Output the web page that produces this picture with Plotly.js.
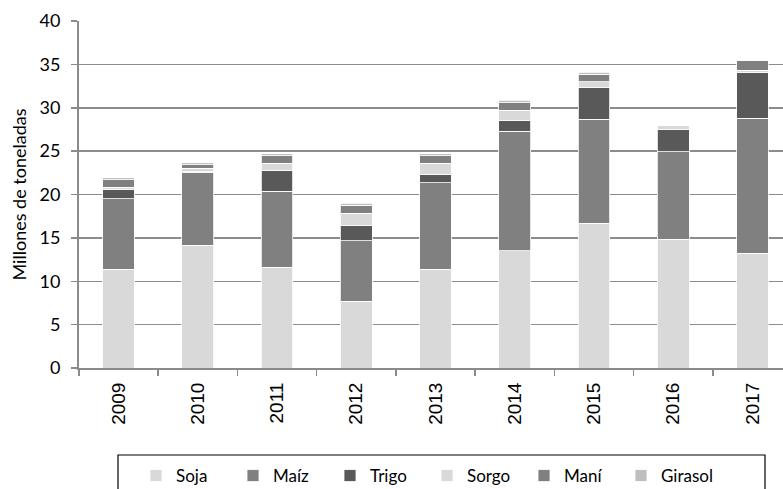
<!DOCTYPE html>
<html>
<head>
<meta charset="utf-8">
<script src="https://cdn.plot.ly/plotly-3.0.1.min.js"></script>
<style>
html, body { margin: 0; padding: 0; overflow: hidden; background: #fff; }
#chart { width: 800px; height: 500px; }
</style>
</head>
<body>
<div id="chart"></div>
<script>
const years = ['2009', '2010', '2011', '2012', '2013', '2014', '2015', '2016', '2017'];
const soja    = [11.4, 14.15, 11.6, 7.7, 11.4, 13.5, 16.7, 14.85, 13.2];
const maiz    = [8.1, 8.4, 8.8, 6.95, 9.95, 13.8, 11.95, 10.1, 15.6];
const trigo   = [1.05, 0.15, 2.4, 1.75, 1.0, 1.25, 3.65, 2.5, 5.25];
const sorgo   = [0.3, 0.3, 0.8, 1.45, 1.25, 1.15, 0.7, 0.45, 0.25];
const mani    = [0.85, 0.45, 0.85, 0.9, 0.85, 0.9, 0.85, 0, 1.2];
const girasol = [0.25, 0.2, 0.25, 0.25, 0.25, 0.25, 0.25, 0.05, 0.05];

const seriesNames = ['Soja', 'Maíz', 'Trigo', 'Sorgo', 'Maní', 'Girasol'];
const seriesData = [soja, maiz, trigo, sorgo, mani, girasol];
const colors = ['#d9d9d9', '#808080', '#595959', '#d9d9d9', '#808080', '#bfbfbf'];

const traces = seriesNames.map((name, i) => ({
  type: 'bar',
  name: name,
  x: years,
  y: seriesData[i],
  marker: { color: colors[i], line: { color: '#ffffff', width: 0.8 } },
  hoverinfo: 'x+y+name'
}));

const W = 800, H = 500;
const layout = {
  width: W,
  height: H,
  barmode: 'stack',
  bargap: 0.6,
  margin: { l: 79, r: 8, t: 21, b: H - 368 },
  paper_bgcolor: '#ffffff',
  plot_bgcolor: '#ffffff',
  font: { family: 'Lato, "Open Sans", sans-serif', color: '#000000' },
  xaxis: {
    type: 'category',
    tickangle: -90,
    tickfont: { family: '"Liberation Sans", Arial, sans-serif', size: 19, color: '#000' },
    showline: true,
    linecolor: '#8a8a8a',
    linewidth: 2,
    ticks: 'outside',
    tickson: 'boundaries',
    ticklen: 6,
    tickcolor: '#8a8a8a',
    tickwidth: 1.5,
    ticklabelstandoff: 5,
    showgrid: false,
    zeroline: false,
    fixedrange: true
  },
  yaxis: {
    range: [0, 40],
    dtick: 5,
    tick0: 0,
    tickfont: { family: 'Lato, sans-serif', size: 18, color: '#000' },
    showline: true,
    linecolor: '#8a8a8a',
    linewidth: 2,
    ticks: 'outside',
    ticklen: 6,
    tickcolor: '#8a8a8a',
    tickwidth: 1.5,
    ticklabelstandoff: 7,
    showgrid: true,
    gridcolor: '#8c8c8c',
    gridwidth: 1.5,
    zeroline: false,
    automargin: false,
    title: {
      text: 'Millones de toneladas',
      font: { family: 'Lato, sans-serif', size: 18, color: '#000' },
      standoff: 8
    },
    fixedrange: true
  },
  showlegend: true,
  legend: {
    orientation: 'h',
    xref: 'container',
    yref: 'container',
    x: 136 / W,
    xanchor: 'left',
    y: 1 - 458 / H,
    yanchor: 'top',
    entrywidth: 52,
    entrywidthmode: 'pixels',
    traceorder: 'normal',
    font: { family: 'Lato, sans-serif', size: 17, color: '#000' },
    bgcolor: 'rgba(0,0,0,0)',
    borderwidth: 0
  },
  shapes: [{
    type: 'rect',
    xref: 'paper', yref: 'paper',
    x0: (118 - 79) / (W - 87), x1: (765 - 79) / (W - 87),
    y0: -(510 - 368) / 347, y1: -(455 - 368) / 347,
    line: { color: '#000000', width: 1.2 },
    fillcolor: 'rgba(0,0,0,0)',
    layer: 'above'
  }]
};

Plotly.newPlot('chart', traces, layout, { displayModeBar: false, staticPlot: true });
</script>
</body>
</html>
